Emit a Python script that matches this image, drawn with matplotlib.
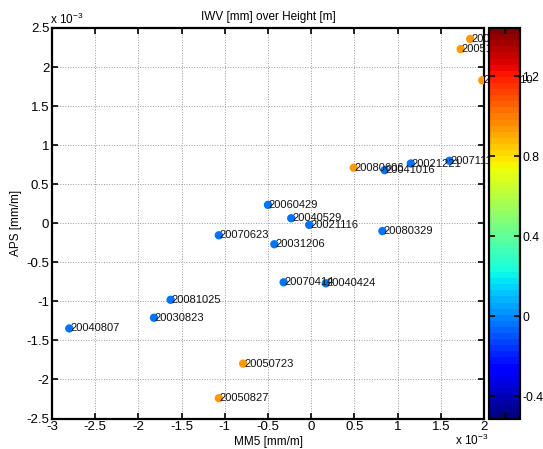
import numpy as np
import matplotlib
matplotlib.use("Agg")
import matplotlib.pyplot as plt
from matplotlib.ticker import FuncFormatter

plt.rcParams['font.family'] = ['Liberation Sans', 'DejaVu Sans']

# data (MM5 and APS in units of 1e-3 mm/m)
labels = ["20040807", "20030823", "20081025", "20070623", "20060429",
          "20040529", "20021116", "20031206", "20070414", "20040424",
          "20080329", "20041016", "20021221", "20071110",
          "20080606", "20050723", "20050827", "20030111", "20051001", "20060610"]
mm5_e3 = [-2.80, -1.82, -1.627, -1.069, -0.50,
          -0.231, -0.023, -0.427, -0.319, 0.169,
          0.824, 0.85, 1.153, 1.60,
          0.492, -0.788, -1.069, 1.84, 1.73, 1.98]
aps_e3 = [-1.347, -1.21, -0.98, -0.154, 0.235,
          0.064, -0.021, -0.269, -0.756, -0.769,
          -0.10, 0.68, 0.765, 0.80,
          0.71, -1.797, -2.240, 2.36, 2.23, 1.83]
color_val = [-0.03, -0.03, -0.03, -0.03, -0.03, -0.03, -0.03, -0.03, -0.03,
             -0.03, -0.03, -0.03, -0.03, -0.03,
             0.95, 0.95, 0.95, 0.95, 0.95, 0.95]
clim = (-0.51, 1.44)
cbar_ticks = [-0.4, 0, 0.4, 0.8, 1.2]
xticks_e3 = [-3, -2.5, -2, -1.5, -1, -0.5, 0, 0.5, 1, 1.5, 2]
yticks_e3 = [-2.5, -2, -1.5, -1, -0.5, 0, 0.5, 1, 1.5, 2, 2.5]

x = np.array(mm5_e3) * 1e-3
y = np.array(aps_e3) * 1e-3

W, H = 543, 449
fig = plt.figure(figsize=(W / 100, H / 100), dpi=100)
ax = fig.add_axes([52 / W, 1 - 418.5 / H, 432 / W, 390.5 / H])
cax = fig.add_axes([489 / W, 1 - 418.5 / H, 31 / W, 390.5 / H])

cmap = plt.get_cmap('jet', 64)
sc = ax.scatter(x, y, c=color_val, cmap=cmap, vmin=clim[0], vmax=clim[1],
                s=36, edgecolors='none', zorder=3)
for xi, yi, lab in zip(x, y, labels):
    ax.text(xi + 0.01e-3, yi, lab, fontsize=8, va='center', ha='left',
            clip_on=False, zorder=4, color='#111111')

ax.set_xlim(-3e-3, 2e-3)
ax.set_ylim(-2.5e-3, 2.5e-3)
ax.set_xticks(np.array(xticks_e3) * 1e-3)
ax.set_yticks(np.array(yticks_e3) * 1e-3)
fmt = FuncFormatter(lambda v, p: f"{v * 1e3:g}")
ax.xaxis.set_major_formatter(fmt)
ax.yaxis.set_major_formatter(fmt)
ax.grid(True, linestyle=':', color='#999999', linewidth=0.7)
ax.set_axisbelow(True)
ax.tick_params(direction='in', top=True, right=True, length=4, width=1.2,
               labelsize=9.5, pad=2)
for s in ax.spines.values():
    s.set_linewidth(1.6)

ax.set_title("IWV [mm] over Height [m]", fontsize=8.5, pad=6)
ax.set_xlabel("MM5 [mm/m]", fontsize=8.5, labelpad=2)
ax.set_ylabel("APS [mm/m]", fontsize=8.5, labelpad=3)

fig.text(50 / W, 1 - 19 / H, r"x 10$^{\mathregular{-3}}$", fontsize=8.5,
         va='center', ha='left')
fig.text(455 / W, 1 - 440 / H, r"x 10$^{\mathregular{-3}}$", fontsize=8.5,
         va='center', ha='left')

cb = fig.colorbar(sc, cax=cax, ticks=cbar_ticks)
cb.ax.tick_params(direction='in', length=4, width=1.2, left=True, right=True,
                  labelsize=8.8, pad=1.5)
cb.ax.yaxis.set_major_formatter(FuncFormatter(lambda v, p: f"{v:g}"))
cb.ax.set_xticks([0.5])
cb.ax.tick_params(axis='x', direction='in', top=True, bottom=True,
                  labelbottom=False, length=4, width=1.2)
cb.outline.set_linewidth(1.6)

fig.savefig("out.png", dpi=100)
